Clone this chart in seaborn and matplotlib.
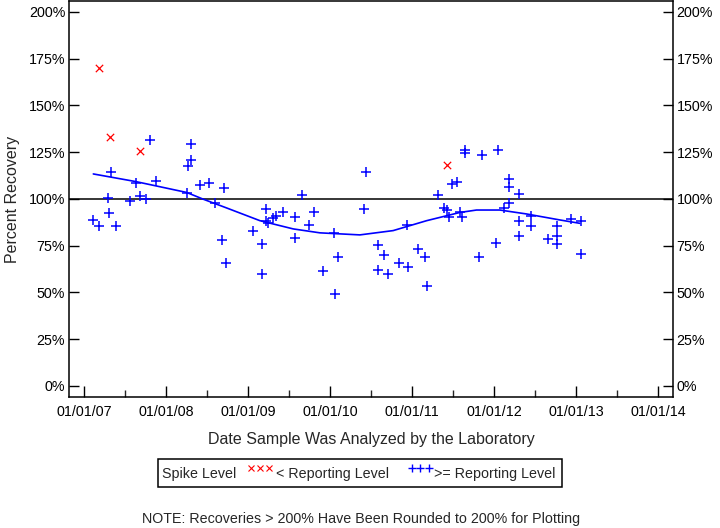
import numpy as np
import pandas as pd
import matplotlib
matplotlib.use("Agg")
import matplotlib.pyplot as plt
import matplotlib.dates as mdates
from matplotlib.patches import Rectangle
from matplotlib.lines import Line2D
import seaborn as sns

# ---------------- data (decimal year, percent recovery) ----------------
above_year = [2007.322, 2007.801, 2008.301, 2008.301, 2008.268, 2007.630, 2007.871,
              2007.293, 2007.679, 2007.749, 2007.554, 2007.110, 2007.183, 2007.305,
              2007.383, 2008.249, 2008.411, 2008.524, 2008.704, 2008.598, 2008.683,
              2008.724, 2009.061, 2009.171, 2009.171, 2009.220, 2009.220, 2009.244,
              2009.305, 2009.341, 2009.420, 2009.573, 2009.573, 2009.651, 2009.737,
              2009.801, 2009.915, 2010.045, 2010.054, 2010.094,
              2010.435, 2010.411, 2011.643, 2011.643, 2011.850, 2012.045, 2011.488,
              2011.549, 2011.313, 2012.183, 2012.183, 2012.298, 2012.183, 2012.118,
              2011.387, 2011.427, 2011.451, 2011.582, 2011.602, 2012.298, 2012.451,
              2012.451, 2012.298, 2012.021, 2011.813, 2012.932, 2013.061, 2012.768,
              2012.773, 2012.659, 2012.768, 2013.054, 2010.932, 2010.585, 2010.655,
              2010.585, 2010.704, 2010.838, 2010.951, 2011.073, 2011.159, 2011.184]
above_pct = [114.5, 131.2, 129.4, 120.7, 117.7, 108.7, 109.6,
             100.4, 101.6, 99.8, 98.6, 88.8, 85.3, 92.4,
             85.3, 103.2, 107.3, 108.5, 105.7, 97.5, 78.0,
             65.8, 82.8, 75.9, 59.9, 94.8, 87.9, 86.9,
             89.7, 90.6, 92.7, 90.1, 78.9, 102.0, 86.2,
             93.1, 61.5, 81.9, 49.3, 69.1,
             114.4, 94.3, 126.1, 124.5, 123.4, 126.1, 107.8,
             109.0, 102.0, 110.8, 106.4, 102.8, 97.5, 95.1,
             95.2, 94.0, 90.4, 93.2, 90.4, 88.1, 90.8,
             85.5, 80.2, 76.2, 69.1, 89.4, 88.1, 85.3,
             79.9, 78.6, 75.7, 70.6, 86.2, 75.4, 69.8,
             61.9, 59.7, 65.8, 63.7, 73.2, 69.0, 53.6]

below_year = [2007.183, 2007.317, 2007.679, 2011.427]
below_pct = [169.8, 133.1, 125.4, 118.1]

trend_year = [2007.110, 2007.630, 2008.249, 2008.451, 2008.737, 2009.143, 2009.549,
              2009.874, 2010.362, 2010.768, 2011.176, 2011.582, 2011.785, 2012.070,
              2012.395, 2012.801, 2013.045]
trend_pct = [113.3, 109.2, 103.4, 99.8, 95.1, 88.3, 83.9,
             81.8, 80.7, 83.0, 88.3, 92.7, 94.0, 94.0,
             91.9, 88.7, 86.9]

y_ticks = [0, 25, 50, 75, 100, 125, 150, 175, 200]
y_labels = [f"{v}%" for v in y_ticks]


def to_date(years):
    years = np.asarray(years, dtype=float)
    base = pd.Timestamp("2007-01-01")
    return base + pd.to_timedelta((years - 2007) * 365.25, unit="D")


above = pd.DataFrame({"date": to_date(above_year), "pct": above_pct})
below = pd.DataFrame({"date": to_date(below_year), "pct": below_pct})
trend = pd.DataFrame({"date": to_date(trend_year), "pct": trend_pct})

# ---------------- figure ----------------
sns.set_style("ticks")
plt.rcParams["font.family"] = ["Liberation Sans", "DejaVu Sans"]

fig = plt.figure(figsize=(7.2, 5.28), dpi=100)
ax = fig.add_axes([69.3 / 720, 1 - 397 / 528, (672.5 - 69.3) / 720, (397 - 1) / 528])

ax.axhline(100, color="black", lw=1.1, zorder=1)
sns.lineplot(data=trend, x="date", y="pct", ax=ax, color="#0000ff", lw=1.2,
             sort=False, estimator=None, zorder=2)
sns.scatterplot(data=above, x="date", y="pct", ax=ax, marker="+", color="#0000ff",
                s=55, linewidth=1.1, zorder=3)
sns.scatterplot(data=below, x="date", y="pct", ax=ax, marker="x", color="#ff0000",
                s=28, linewidth=0.9, zorder=3)

ax.set_xlim(to_date([2006.817])[0], to_date([2014.176])[0])
ax.set_ylim(-6, 205.8)

ax.set_yticks(y_ticks)
ax.set_yticklabels(y_labels)
ax.xaxis.set_major_locator(mdates.YearLocator())
ax.xaxis.set_minor_locator(mdates.MonthLocator(bymonth=7))
ax.xaxis.set_major_formatter(mdates.DateFormatter("%m/%d/%y"))

for s in ax.spines.values():
    s.set_visible(True)
    s.set_color("black")
    s.set_linewidth(1.1)

ax.tick_params(axis="y", which="both", direction="in", left=True, right=True,
               labelleft=True, labelright=True, length=7, width=1, labelsize=10.3,
               pad=3, colors="black")
ax.tick_params(axis="x", which="major", direction="in", length=8, width=1,
               labelsize=10.3, pad=6, colors="black")
ax.tick_params(axis="x", which="minor", direction="in", length=5, width=1)

ax.set_xlabel("Date Sample Was Analyzed by the Laboratory", fontsize=11.5, labelpad=9)
ax.set_ylabel("Percent Recovery", fontsize=11.5, labelpad=6)

# ---------------- legend box ----------------
fig.patches.append(Rectangle((158.3 / 720, 1 - 487.3 / 528), (562.3 - 158.3) / 720,
                             (487.3 - 459) / 528, transform=fig.transFigure,
                             fill=False, edgecolor="black", lw=1.1))
ly = 1 - 474 / 528
fig.text(162 / 720, ly, "Spike Level", fontsize=10.3, va="center", ha="left")
for px in (251, 260, 269):
    fig.add_artist(Line2D([px / 720], [1 - 468 / 528], transform=fig.transFigure,
                          marker="x", markersize=4.5, markeredgewidth=0.8,
                          color="#ff0000", linestyle="none"))
fig.text(275.5 / 720, ly, "< Reporting Level", fontsize=10.3, va="center", ha="left")
for px in (411.5, 420, 428.5):
    fig.add_artist(Line2D([px / 720], [1 - 468 / 528], transform=fig.transFigure,
                          marker="+", markersize=5.5, markeredgewidth=1.0,
                          color="#0000ff", linestyle="none"))
fig.text(434 / 720, ly, ">= Reporting Level", fontsize=10.3, va="center", ha="left")

fig.text(361 / 720, 1 - 519 / 528, "NOTE: Recoveries > 200% Have Been Rounded to 200% for Plotting",
         fontsize=10.3, va="center", ha="center")

fig.savefig("out.png", dpi=100)
